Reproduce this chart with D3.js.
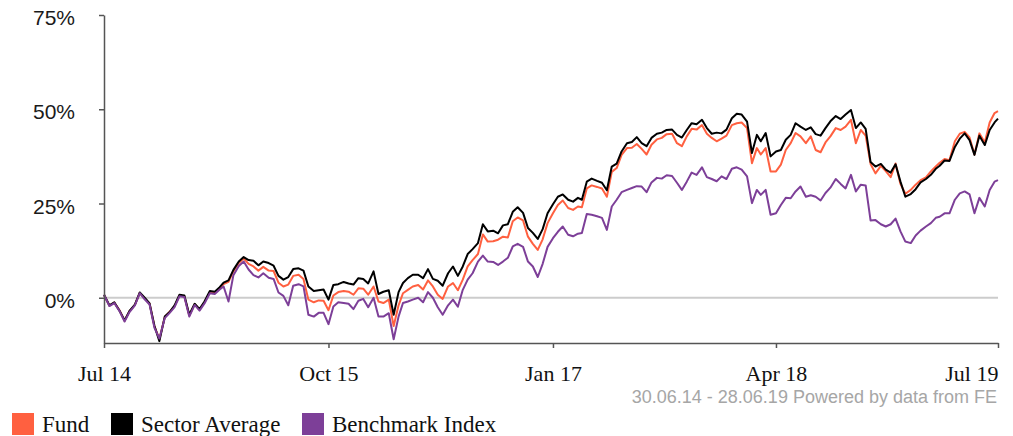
<!DOCTYPE html>
<html>
<head>
<meta charset="utf-8">
<script src="https://cdn.jsdelivr.net/npm/d3@7"></script>
<style>
  body { margin: 0; background: #fff; }
  svg { display: block; }
</style>
</head>
<body>
<svg id="chart" width="1013" height="436"></svg>
<script>
// observation dates (roughly every 10 days)
var dates = (
  "2014-06-30 2014-07-11 2014-07-21 2014-08-01 2014-08-11 2014-08-21 2014-09-01 2014-09-11 2014-09-21 " +
  "2014-10-01 2014-10-11 2014-10-21 2014-11-01 2014-11-11 2014-11-21 2014-12-01 2014-12-11 2014-12-21 " +
  "2015-01-01 2015-01-11 2015-01-21 2015-02-01 2015-02-11 2015-02-21 2015-03-01 2015-03-11 2015-03-21 " +
  "2015-04-01 2015-04-11 2015-04-21 2015-05-01 2015-05-11 2015-05-21 2015-06-01 2015-06-11 2015-06-21 " +
  "2015-07-01 2015-07-11 2015-07-21 2015-08-01 2015-08-11 2015-08-21 2015-09-01 2015-09-11 2015-09-21 " +
  "2015-10-01 2015-10-11 2015-10-21 2015-11-01 2015-11-11 2015-11-21 2015-12-01 2015-12-11 2015-12-21 " +
  "2016-01-01 2016-01-11 2016-01-21 2016-02-01 2016-02-11 2016-02-21 2016-03-01 2016-03-11 2016-03-21 " +
  "2016-04-01 2016-04-11 2016-04-21 2016-05-01 2016-05-11 2016-05-21 2016-06-01 2016-06-11 2016-06-21 " +
  "2016-07-01 2016-07-11 2016-07-21 2016-08-01 2016-08-11 2016-08-21 2016-09-01 2016-09-11 2016-09-21 " +
  "2016-10-01 2016-10-11 2016-10-21 2016-11-01 2016-11-11 2016-11-21 2016-12-01 2016-12-11 2016-12-21 " +
  "2017-01-01 2017-01-11 2017-01-21 2017-02-01 2017-02-11 2017-02-21 2017-03-01 2017-03-11 2017-03-21 " +
  "2017-04-01 2017-04-11 2017-04-21 2017-05-01 2017-05-11 2017-05-21 2017-06-01 2017-06-11 2017-06-21 " +
  "2017-07-01 2017-07-11 2017-07-21 2017-08-01 2017-08-11 2017-08-21 2017-09-01 2017-09-11 2017-09-21 " +
  "2017-10-01 2017-10-11 2017-10-21 2017-11-01 2017-11-11 2017-11-21 2017-12-01 2017-12-11 2017-12-21 " +
  "2018-01-01 2018-01-11 2018-01-21 2018-02-01 2018-02-11 2018-02-21 2018-03-01 2018-03-11 2018-03-21 " +
  "2018-04-01 2018-04-11 2018-04-21 2018-05-01 2018-05-11 2018-05-21 2018-06-01 2018-06-11 2018-06-21 " +
  "2018-07-01 2018-07-11 2018-07-21 2018-08-01 2018-08-11 2018-08-21 2018-09-01 2018-09-11 2018-09-21 " +
  "2018-10-01 2018-10-11 2018-10-21 2018-11-01 2018-11-11 2018-11-21 2018-12-01 2018-12-11 2018-12-21 " +
  "2019-01-01 2019-01-11 2019-01-21 2019-02-01 2019-02-11 2019-02-21 2019-03-01 2019-03-11 2019-03-21 " +
  "2019-04-01 2019-04-11 2019-04-21 2019-05-01 2019-05-11 2019-05-21 2019-06-01 2019-06-11 2019-06-21 " +
  "2019-06-28"
).split(" ");

// cumulative performance, %
var fund = [
  0.8,-2.1,-1.3,-3.4,-6.1,-3.6,-1.9,1.3,-0.2,-1.6,
  -7.6,-11.0,-5.1,-3.7,-2.2,0.6,0.4,-4.7,-1.7,-3.1,
  -1.2,1.5,1.4,2.5,3.6,4.2,7.0,9.2,10.4,9.0,
  8.3,7.2,8.2,7.2,7.1,4.0,3.0,3.5,5.8,6.1,
  5.0,-0.5,-1.2,-0.7,-0.8,-3.3,0.6,1.5,1.8,1.6,
  0.8,2.5,2.4,0.8,3.0,-1.0,-1.4,-0.5,-7.5,-2.0,
  1.2,2.1,3.0,3.4,2.2,4.6,3.0,0.8,-0.3,3.0,
  3.9,2.0,4.8,8.3,10.0,11.6,16.8,14.9,15.0,15.4,
  16.2,16.0,20.3,21.3,20.5,16.2,14.3,12.7,15.5,19.8,
  22.4,24.6,25.8,23.8,23.3,24.2,24.0,29.0,29.8,29.4,
  29.0,26.8,33.4,34.4,37.9,39.7,39.8,40.8,39.5,38.0,
  40.6,42.0,42.4,43.4,43.5,41.0,40.2,42.8,44.8,44.6,
  45.8,43.5,42.4,41.5,42.2,43.0,45.8,46.3,46.5,45.0,
  35.7,39.7,38.0,39.7,33.5,33.5,35.3,39.2,41.0,43.7,
  42.8,41.0,42.8,39.2,38.6,41.2,42.8,45.0,44.5,45.4,
  47.2,41.0,44.5,43.0,35.5,33.0,35.0,33.6,32.0,35.6,
  30.2,27.6,28.6,30.0,31.2,31.9,33.5,34.8,35.8,36.8,
  36.5,41.5,43.5,44.0,42.5,38.0,43.6,41.2,46.5,49.0,
  49.5
];
var sector = [
  0.8,-2.0,-1.2,-3.5,-6.0,-3.5,-1.8,1.4,0.0,-1.5,
  -7.5,-11.5,-5.0,-3.8,-2.0,0.8,0.6,-4.5,-1.6,-3.0,
  -1.0,1.8,1.6,2.8,4.0,4.6,7.4,9.6,10.8,10.0,
  9.8,8.6,9.6,9.2,8.5,5.8,4.8,5.5,7.6,7.8,
  7.2,3.0,1.8,2.0,2.2,-0.5,3.4,3.6,4.2,3.8,
  3.5,5.2,5.0,3.8,7.0,1.0,1.6,2.0,-4.5,1.5,
  3.9,5.2,6.1,6.1,5.2,7.6,5.0,4.5,3.2,6.5,
  8.3,5.8,8.3,11.6,12.9,14.5,19.5,17.6,17.8,17.1,
  19.2,19.5,22.8,24.0,22.5,18.5,17.2,15.6,18.2,22.4,
  24.8,26.8,27.4,26.0,25.5,26.5,26.0,30.8,31.6,31.0,
  30.5,28.5,34.8,35.6,38.8,41.0,41.3,42.6,41.0,40.2,
  42.4,43.5,43.8,44.5,44.6,43.2,42.5,44.5,46.3,46.0,
  47.2,45.0,43.5,43.8,43.6,44.6,47.6,48.8,48.6,46.7,
  38.4,43.2,41.5,43.7,37.5,38.8,39.2,41.9,43.2,46.3,
  45.4,44.5,45.2,43.4,43.0,45.0,46.8,48.2,47.4,48.6,
  49.8,45.0,46.5,44.8,36.0,34.8,35.5,34.0,33.2,35.4,
  30.8,26.8,27.5,28.8,30.6,31.5,32.6,34.2,35.0,36.4,
  36.3,40.0,42.2,43.6,41.8,37.9,43.0,40.5,44.5,46.5,
  47.5
];
var benchmark = [
  0.8,-2.2,-1.4,-3.6,-6.3,-3.8,-2.0,1.2,-0.4,-1.8,
  -8.0,-10.8,-5.4,-4.0,-2.5,0.4,0.2,-5.0,-1.9,-3.4,
  -1.5,1.2,1.0,2.2,3.0,-1.0,6.0,8.4,9.6,7.5,
  6.0,5.4,6.5,5.3,5.0,1.4,0.5,-2.0,3.2,3.6,
  3.0,-4.5,-5.0,-4.0,-4.0,-7.0,-2.3,-1.2,-1.4,-1.6,
  -3.0,-0.8,-0.3,-2.5,0.0,-5.0,-5.0,-4.1,-11.0,-5.0,
  -1.4,-1.0,-0.5,0.0,-1.2,1.5,0.0,-2.5,-4.5,-2.0,
  -0.5,-2.4,2.1,4.8,6.5,9.6,11.2,9.6,9.5,8.7,
  9.6,10.6,13.6,14.3,13.5,9.6,8.3,5.5,9.0,13.5,
  15.8,17.5,18.9,16.7,16.3,17.0,17.2,22.2,22.0,21.6,
  21.2,18.0,24.2,26.0,28.0,28.6,29.1,29.6,29.5,28.0,
  30.6,31.8,31.6,32.5,32.3,30.5,28.6,30.8,33.2,32.6,
  34.6,32.0,31.5,30.9,32.2,31.5,34.2,34.6,34.0,32.2,
  25.1,28.6,27.3,28.6,22.0,22.4,24.6,26.5,26.4,28.2,
  29.5,26.8,27.2,26.8,25.8,27.8,29.2,31.5,30.2,29.0,
  32.6,28.2,30.0,29.8,20.5,20.6,19.5,18.9,19.5,21.0,
  17.6,14.9,14.5,16.5,17.8,18.9,19.8,21.2,21.5,22.4,
  22.4,26.0,27.7,28.2,27.4,22.4,26.5,24.2,28.6,30.8,
  31.2
];

var seriesNames = ["Fund", "Sector Average", "Benchmark Index"];
var seriesColors = ["#ff6040", "#000000", "#7d3f98"];
var xTickDates = ["2014-06-30", "2015-10-01", "2017-01-01", "2018-04-01", "2019-06-28"];
var xTickLabels = ["Jul 14", "Oct 15", "Jan 17", "Apr 18", "Jul 19"];
var yTicks = [0, 25, 50, 75];
var yMin = -12, yMax = 75;
var footnote = "30.06.14 - 28.06.19 Powered by data from FE";

var parse = d3.timeParse("%Y-%m-%d");
var svg = d3.select("#chart");
var plotLeft = 104, plotRight = 998, plotTop = 15, plotBottom = 343;

var x = d3.scaleTime()
  .domain([parse(dates[0]), parse(dates[dates.length - 1])])
  .range([plotLeft, plotRight]);
var y = d3.scaleLinear().domain([yMin, yMax]).range([plotBottom, plotTop]);

// zero line
svg.append("line")
  .attr("x1", plotLeft).attr("x2", plotRight)
  .attr("y1", y(0)).attr("y2", y(0))
  .style("stroke", "#cccccc")
  .style("stroke-width", 2);

var allSeries = [fund, sector, benchmark];
var line = d3.line()
  .x(function (d, i) { return x(parse(dates[i])); })
  .y(function (d) { return y(d); });

svg.append("g")
  .selectAll("path")
  .data(allSeries)
  .enter()
  .append("path")
  .attr("d", function (d) { return line(d); })
  .style("fill", "none")
  .style("stroke", function (d, i) { return seriesColors[i]; })
  .style("stroke-width", 2)
  .style("stroke-linejoin", "round");

// y axis
var yAxis = svg.append("g")
  .attr("transform", "translate(" + plotLeft + ",0)")
  .call(d3.axisLeft(y).tickValues(yTicks)
    .tickFormat(function (d) { return d + "%"; })
    .tickSize(5).tickSizeOuter(0).tickPadding(24));
yAxis.selectAll("text")
  .attr("y", 3)
  .style("font-family", "'Liberation Sans', Arial, sans-serif")
  .style("font-size", "21px")
  .style("fill", "#1a1a1a");

// x axis
var xAxis = svg.append("g")
  .attr("transform", "translate(0," + plotBottom + ")")
  .call(d3.axisBottom(x).tickValues(xTickDates.map(parse))
    .tickFormat(function (d, i) { return xTickLabels[i]; })
    .tickSize(5).tickSizeOuter(0));
xAxis.selectAll("text")
  .attr("y", 38)
  .attr("dy", 0)
  .style("font-family", "Georgia, 'Liberation Serif', serif")
  .style("font-size", "22px")
  .style("fill", "#111")
  .attr("text-anchor", function (d, i) { return i == xTickLabels.length - 1 ? "end" : "middle"; });

svg.selectAll(".domain, .tick line")
  .style("stroke", "#555")
  .style("stroke-width", 1.5);

// footnote
svg.append("text")
  .attr("x", 997).attr("y", 403)
  .attr("text-anchor", "end")
  .style("font-family", "'Liberation Sans', Arial, sans-serif")
  .style("font-size", "18px")
  .style("fill", "#a6a6a6")
  .text(footnote);

// legend
var legendX = [12, 111, 302];
var lg = svg.append("g")
  .selectAll("g")
  .data(seriesNames)
  .enter()
  .append("g")
  .attr("transform", function (d, i) { return "translate(" + legendX[i] + ",413)"; });
lg.append("rect")
  .attr("width", 22).attr("height", 22)
  .attr("fill", function (d, i) { return seriesColors[i]; });
lg.append("text")
  .attr("x", 30).attr("y", 19)
  .style("font-family", "Georgia, 'Liberation Serif', serif")
  .style("font-size", "23px")
  .style("fill", "#111")
  .text(function (d) { return d; });
</script>
</body>
</html>
